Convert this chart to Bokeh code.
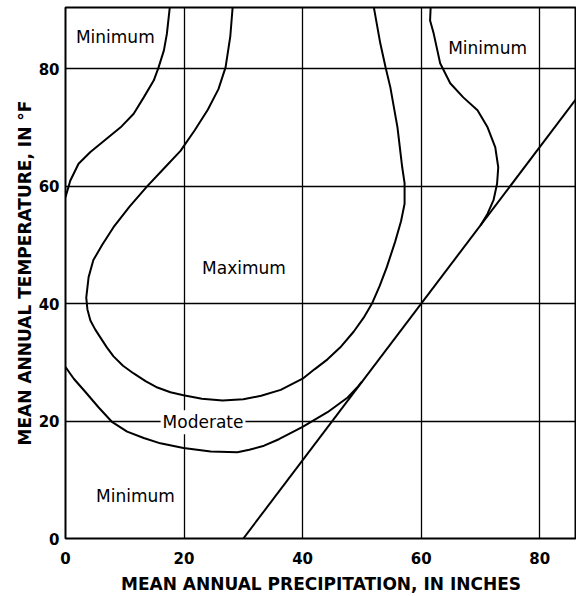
from bokeh.plotting import figure
from bokeh.models import Label, FixedTicker, Range1d
from bokeh.embed import file_html
from bokeh.resources import INLINE

# Tick values
x_ticks = [0, 20, 40, 60, 80]
y_ticks = [0, 20, 40, 60, 80]

# Curve A: upper-left "Minimum" boundary
curve_a_x = [0, 0.8, 2.2, 4.2, 5.9, 9.3, 11.5, 13.2, 14.9, 15.7, 16.6, 17.1, 17.6]
curve_a_y = [58.1, 60.9, 63.8, 65.8, 67.2, 70.0, 72.3, 75.1, 78.0, 80.2, 83.1, 85.9, 90.5]

# Curve B: "Maximum" region boundary
curve_b_x = [28.2, 27.8, 27.0, 25.8, 24.0, 21.8, 19.4, 16.6, 13.8, 10.8, 8.1, 6.2, 4.7,
             3.9, 3.5, 3.7, 4.2, 5.0, 5.9, 7.0, 8.1, 9.7, 11.5, 13.5, 15.5, 17.7, 19.9,
             23.0, 26.5, 30.0, 33.0, 36.3, 40.0, 42.0, 44.2, 46.5, 48.6, 50.3, 51.7,
             53.0, 54.2, 55.6, 56.6, 57.2, 57.2, 56.8, 56.0, 54.8, 54.0, 53.1, 52.0]
curve_b_y = [90.5, 85.5, 80.2, 76.5, 73.0, 69.5, 66.0, 63.0, 60.0, 56.5, 53.0, 50.0, 47.4,
             44.5, 41.0, 39.0, 37.1, 35.6, 34.2, 32.5, 31.0, 29.4, 28.1, 26.8, 25.7, 24.9, 24.4,
             23.8, 23.5, 23.7, 24.3, 25.3, 27.2, 28.8, 30.5, 32.7, 35.2, 37.6, 40.0,
             43.0, 46.2, 50.5, 54.0, 57.0, 60.5, 63.2, 70.0, 76.8, 80.2, 84.3, 90.5]

# Curve C: "Moderate" lower boundary
curve_c_x = [0, 1.4, 3.4, 5.6, 7.9, 10.4, 13.2, 16.0, 19.9, 24.5, 29.0, 31.0, 33.5, 36.0,
             40.0, 44.2, 47.6, 49.2, 50.0]
curve_c_y = [29.2, 27.2, 24.9, 22.3, 19.8, 18.2, 17.1, 16.2, 15.4, 14.8, 14.7, 15.1, 15.8,
             16.9, 19.0, 21.5, 24.0, 25.7, 26.7]

# Curve D: upper-right "Minimum" boundary
curve_d_x = [61.6, 61.5, 62.1, 63.2, 64.9, 67.1, 69.5, 71.2, 72.5, 73.0, 72.8, 72.2, 71.2, 70.0]
curve_d_y = [90.5, 88.2, 86.0, 80.9, 77.5, 75.1, 72.9, 70.0, 66.6, 63.2, 60.4, 57.6, 55.3, 53.3]

# Straight boundary line
line_x = [30, 88]
line_y = [0, 77.3]

p = figure(width=576, height=596, output_backend="svg", toolbar_location=None,
           x_range=Range1d(0, 86.2), y_range=Range1d(0, 90.4),
           min_border_left=65, min_border_right=0, min_border_top=7, min_border_bottom=58)

p.background_fill_color = "white"
p.border_fill_color = "white"
p.outline_line_color = "black"
p.outline_line_width = 2

for ax in (p.xaxis[0], p.yaxis[0]):
    ax.axis_line_color = None
    ax.major_tick_line_color = None
    ax.minor_tick_line_color = None
    ax.major_tick_in = 0
    ax.major_tick_out = 0
    ax.minor_tick_in = 0
    ax.minor_tick_out = 0
    ax.major_label_text_font = "DejaVu Sans"
    ax.major_label_text_font_style = "bold"
    ax.major_label_text_font_size = "15px"
    ax.major_label_text_color = "black"
    ax.axis_label_text_font = "DejaVu Sans"
    ax.axis_label_text_font_style = "bold"
    ax.axis_label_text_font_size = "17px"
    ax.axis_label_text_color = "black"

p.xaxis.ticker = FixedTicker(ticks=x_ticks)
p.yaxis.ticker = FixedTicker(ticks=y_ticks)
p.xaxis.major_label_standoff = 13
p.yaxis.major_label_standoff = 6
p.xaxis.axis_label_standoff = 7
p.yaxis.axis_label_standoff = 1
p.xaxis.axis_label = "MEAN ANNUAL PRECIPITATION, IN INCHES"
p.yaxis.axis_label = "MEAN ANNUAL TEMPERATURE, IN °F"

for g in (p.xgrid[0], p.ygrid[0]):
    g.grid_line_color = "black"
    g.grid_line_width = 1.3
    g.grid_line_alpha = 1.0

lw = 2
p.line(curve_a_x, curve_a_y, line_color="black", line_width=lw)
p.line(curve_b_x, curve_b_y, line_color="black", line_width=lw)
p.line(curve_c_x, curve_c_y, line_color="black", line_width=lw)
p.line(curve_d_x, curve_d_y, line_color="black", line_width=lw)
p.line(line_x, line_y, line_color="black", line_width=lw)

def add_label(x, y, text, bg=None):
    kw = dict(x=x, y=y, text=text, text_align="center", text_baseline="middle",
              text_font="DejaVu Sans", text_font_size="17px", text_color="black")
    if bg:
        kw.update(background_fill_color=bg, background_fill_alpha=1.0, padding=2)
    p.add_layout(Label(**kw))

add_label(8.4, 85.3, "Minimum")
add_label(71.2, 83.5, "Minimum")
add_label(30.1, 46.1, "Maximum")
add_label(23.2, 19.8, "Moderate", bg="white")
add_label(11.8, 7.3, "Minimum")

open("out.html", "w").write(file_html(p, INLINE))
